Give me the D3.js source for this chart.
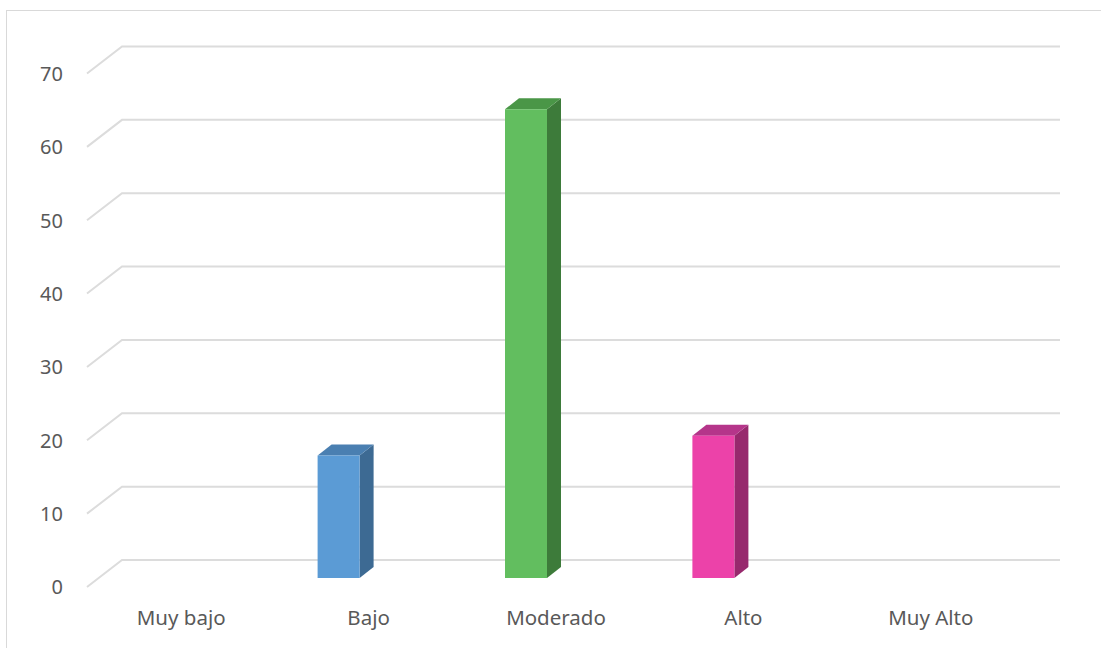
<!DOCTYPE html>
<html>
<head>
<meta charset="utf-8">
<script src="https://cdn.jsdelivr.net/npm/d3@7"></script>
<style>
  body { margin: 0; background: #fff; }
  text { font-family: "Noto Sans", "Open Sans", sans-serif; fill: #595959; }
</style>
</head>
<body>
<div id="chart"></div>
<script>
// Data
const categories = ["Muy bajo", "Bajo", "Moderado", "Alto", "Muy Alto"];
const values = [0, 16.7, 63.9, 19.4, 0];
const yTicks = [0, 10, 20, 30, 40, 50, 60, 70];

// Bar colours (front, side, top)
const frontColors = ["#5b9bd5", "#5b9bd5", "#62be5f", "#ec42a9", "#ec42a9"];
const sideColors  = ["#3d6a93", "#3d6a93", "#3d7b3a", "#97296d", "#97296d"];
const topColors   = ["#4a7fb1", "#4a7fb1", "#4a9647", "#b5358a", "#b5358a"];

const W = 1101, H = 648;
const wallDx = 35, wallDy = 27;   // floor front -> back wall offset
const barDx = 14, barDy = 11;     // bar depth
const barW = 42;

const svg = d3.select("#chart").append("svg")
  .attr("width", W)
  .attr("height", H);

// Outer border
svg.append("rect")
  .attr("x", 6.5).attr("y", 10.5)
  .attr("width", 1100).attr("height", 650)
  .attr("fill", "none")
  .attr("stroke", "#d9d9d9")
  .attr("stroke-width", 1);

// Scales (y measured on the back wall)
const y = d3.scaleLinear().domain([0, 70]).range([560, 46.5]);
const x = d3.scaleBand().domain(categories).range([87.5, 1024.5]);

// Gridlines
svg.append("g").selectAll("polyline")
  .data(yTicks)
  .enter()
  .append("polyline")
    .attr("points", d => [
      [87, y(d) + wallDy], [87 + wallDx, y(d)], [1060, y(d)]
    ].map(p => p.join(",")).join(" "))
    .attr("fill", "none")
    .attr("stroke", "#dcdcdc")
    .attr("stroke-width", 2);

// Y labels
svg.append("g").selectAll("text")
  .data(yTicks)
  .enter()
  .append("text")
    .attr("x", 63)
    .attr("y", d => y(d) + wallDy + 2)
    .attr("text-anchor", "end")
    .attr("dominant-baseline", "middle")
    .attr("font-size", "20px")
    .text(d => d);

// X labels
svg.append("g").selectAll("text")
  .data(categories)
  .enter()
  .append("text")
    .attr("x", d => x(d) + x.bandwidth() / 2)
    .attr("y", 619)
    .attr("text-anchor", "middle")
    .attr("dominant-baseline", "middle")
    .attr("font-size", "20.5px")
    .text(d => d);

// Bars
const yBar = v => y(v) + 18;
const bars = categories.map((c, i) => ({ c: c, v: values[i], i: i })).filter(d => d.v > 0);
const g = svg.append("g");
bars.forEach(d => {
  const left = x(d.c) + x.bandwidth() / 2 - 51;
  const t = yBar(d.v), b = yBar(0);
  const pts = a => a.map(p => p.join(",")).join(" ");
  g.append("polygon")
    .attr("points", pts([[left + barW, t], [left + barW + barDx, t - barDy], [left + barW + barDx, b - barDy], [left + barW, b]]))
    .attr("fill", sideColors[d.i]);
  g.append("polygon")
    .attr("points", pts([[left, t], [left + barDx, t - barDy], [left + barW + barDx, t - barDy], [left + barW, t]]))
    .attr("fill", topColors[d.i]);
  g.append("rect")
    .attr("x", left).attr("y", t)
    .attr("width", barW).attr("height", b - t)
    .attr("fill", frontColors[d.i]);
});
</script>
</body>
</html>
